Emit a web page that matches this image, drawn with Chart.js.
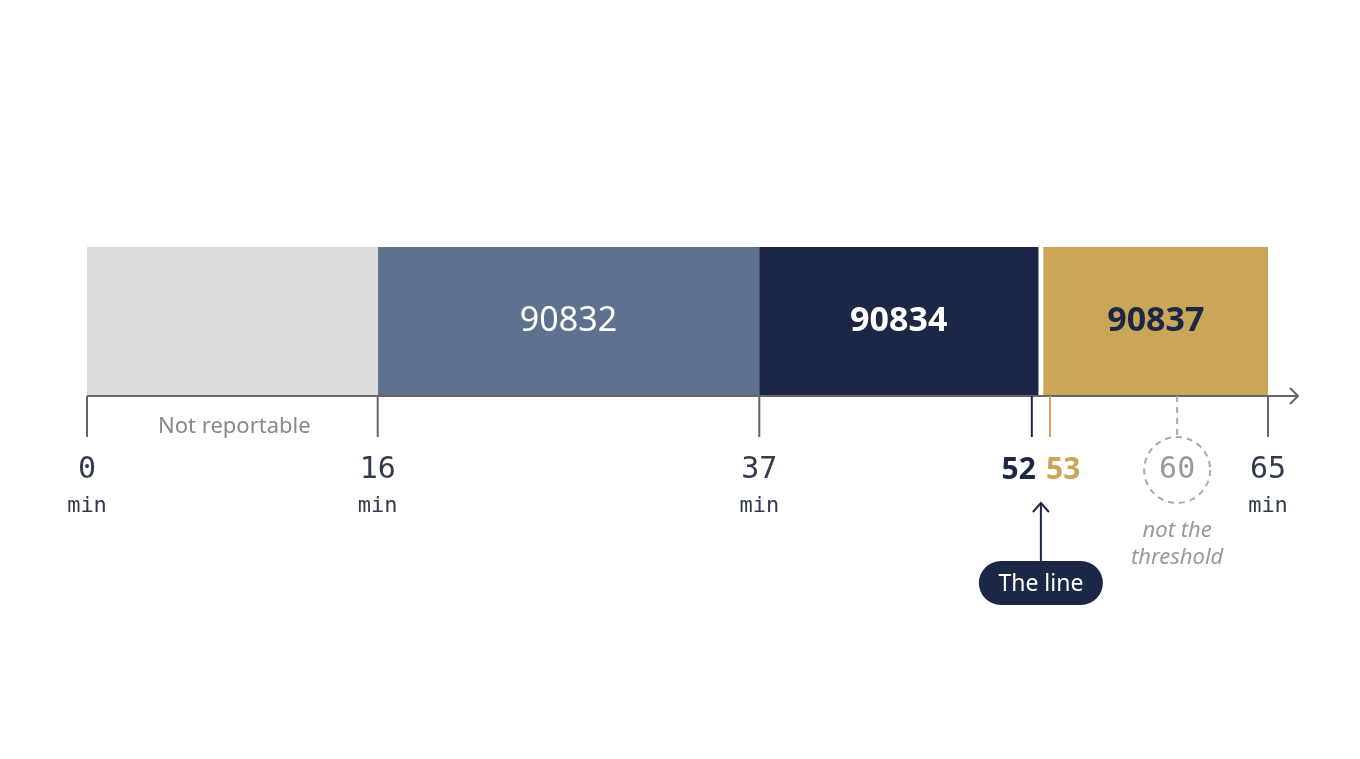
<!DOCTYPE html>
<html>
<head>
<meta charset="utf-8">
<script src="https://cdn.jsdelivr.net/npm/chart.js@4/dist/chart.umd.min.js"></script>
<style>
  html, body { margin: 0; background: #fff; }
  #wrap { width: 1360px; height: 759px; }
</style>
</head>
<body>
<div id="wrap"><canvas id="chart"></canvas></div>
<script>
// segments in minutes
const segLabels = ["", "90832", "90834", "90837"];
const segRanges = [[0, 16], [16, 37], [37, 52.35], [52.65, 65]];
const segColors = ["#dcdcdc", "#5e718f", "#1c2645", "#c9a65a"];
const segText = ["#ffffff", "#ffffff", "#ffffff", "#1c2645"];
const segBold = [false, false, true, true];

const minuteTicks = [0, 16, 37, 65];
const lineMinute = 52;
const billMinute = 53;
const fakeMinute = 60;
const arrowMinute = 52.5;

const mono = "'DejaVu Sans Mono', 'Liberation Mono', monospace";
const sans = "'Noto Sans', 'Open Sans', sans-serif";

const overlay = {
  id: "overlay",
  afterDatasetsDraw(chart) {
    const ctx = chart.ctx;
    const x = chart.scales.x;
    const area = chart.chartArea;
    const axisY = area.bottom + 1;
    const px = v => x.getPixelForValue(v);
    ctx.save();

    // bar labels
    chart.data.datasets.forEach((ds, i) => {
      if (!segLabels[i]) return;
      const r = segRanges[i];
      ctx.fillStyle = segText[i];
      ctx.font = (segBold[i] ? "bold " : "") + "34px " + sans;
      ctx.textAlign = "center";
      ctx.textBaseline = "middle";
      ctx.fillText(segLabels[i], (px(r[0]) + px(r[1])) / 2, (area.top + area.bottom) / 2);
    });

    // axis line with arrow
    ctx.strokeStyle = "#666";
    ctx.lineWidth = 2;
    ctx.beginPath();
    ctx.moveTo(px(0), axisY);
    ctx.lineTo(area.right + 30, axisY);
    ctx.stroke();
    ctx.beginPath();
    ctx.moveTo(area.right + 22, axisY - 8);
    ctx.lineTo(area.right + 30, axisY);
    ctx.lineTo(area.right + 22, axisY + 8);
    ctx.stroke();

    // main ticks
    ctx.textAlign = "center";
    minuteTicks.forEach(m => {
      const p = px(m);
      ctx.strokeStyle = "#666";
      ctx.beginPath();
      ctx.moveTo(p, axisY);
      ctx.lineTo(p, axisY + 41);
      ctx.stroke();
      ctx.fillStyle = "#333a4d";
      ctx.font = "30px " + mono;
      ctx.textBaseline = "middle";
      ctx.fillText(String(m), p, 470);
      ctx.font = "22px " + mono;
      ctx.fillText("min", p, 506);
    });

    // 52 / 53 ticks
    [[lineMinute, "#1c2645", "right"], [billMinute, "#c9a65a", "left"]].forEach(([m, c, al]) => {
      const p = px(m);
      ctx.strokeStyle = c;
      ctx.beginPath();
      ctx.moveTo(p, axisY);
      ctx.lineTo(p, axisY + 41);
      ctx.stroke();
      ctx.fillStyle = c;
      ctx.font = "bold 30px " + sans;
      ctx.textAlign = al;
      ctx.fillText(String(m), al === "right" ? p + 4 : p - 4, 470);
    });

    // 60 dashed
    const p60 = px(fakeMinute);
    ctx.strokeStyle = "#aaa";
    ctx.setLineDash([6, 5]);
    ctx.beginPath();
    ctx.moveTo(p60, axisY);
    ctx.lineTo(p60, axisY + 40);
    ctx.stroke();
    ctx.beginPath();
    ctx.arc(p60, 470, 33, 0, Math.PI * 2);
    ctx.stroke();
    ctx.setLineDash([]);
    ctx.fillStyle = "#999";
    ctx.textAlign = "center";
    ctx.font = "30px " + mono;
    ctx.fillText(String(fakeMinute), p60, 470);
    ctx.font = "italic 22px " + sans;
    ctx.fillText("not the", p60, 531);
    ctx.fillText("threshold", p60, 558);

    // not reportable
    ctx.fillStyle = "#888";
    ctx.font = "22px " + sans;
    ctx.fillText("Not reportable", (px(0) + px(16)) / 2 + 2, 427);

    // arrow + pill
    const pa = px(arrowMinute);
    ctx.strokeStyle = "#1c2645";
    ctx.beginPath();
    ctx.moveTo(pa, 561);
    ctx.lineTo(pa, 504);
    ctx.stroke();
    ctx.beginPath();
    ctx.moveTo(pa - 8, 512);
    ctx.lineTo(pa, 503);
    ctx.lineTo(pa + 8, 512);
    ctx.stroke();
    ctx.fillStyle = "#1c2645";
    ctx.beginPath();
    ctx.roundRect(pa - 62, 561, 124, 44, 22);
    ctx.fill();
    ctx.fillStyle = "#fff";
    ctx.font = "23px " + sans;
    ctx.fillText("The line", pa, 584);
    ctx.restore();
  }
};

new Chart(document.getElementById("chart"), {
  type: "bar",
  data: {
    labels: ["time"],
    datasets: segRanges.map((r, i) => ({
      label: segLabels[i] || "Not reportable",
      data: [r],
      backgroundColor: segColors[i],
      borderWidth: 0,
      grouped: false,
      barPercentage: 1,
      categoryPercentage: 1
    }))
  },
  options: {
    indexAxis: "y",
    responsive: true,
    maintainAspectRatio: false,
    animation: false,
    layout: { padding: { left: 87, right: 92, top: 247, bottom: 364 } },
    scales: {
      x: { type: "linear", min: 0, max: 65, display: false },
      y: { display: false }
    },
    plugins: { legend: { display: false }, tooltip: { enabled: false } }
  },
  plugins: [overlay]
});
</script>
</body>
</html>
